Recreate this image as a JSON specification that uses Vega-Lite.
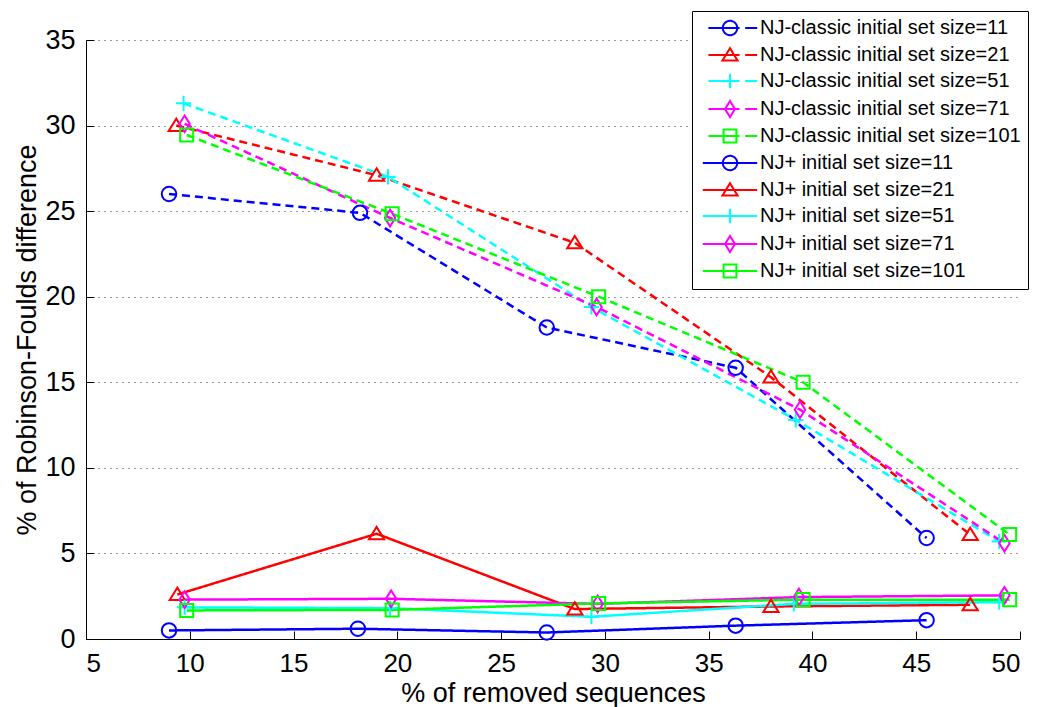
{
  "$schema": "https://vega.github.io/schema/vega-lite/v6.json",
  "width": 934,
  "height": 599,
  "autosize": "none",
  "padding": {"left": 86, "top": 40, "right": 20, "bottom": 68},
  "background": "white",
  "config": {
    "font": "Liberation Sans",
    "view": {"stroke": null},
    "axis": {
      "domainColor": "black",
      "domainWidth": 1,
      "tickColor": "black",
      "tickSize": -8,
      "tickWidth": 1,
      "labelColor": "black",
      "labelFont": "Liberation Sans",
      "labelFontSize": 26,
      "titleFont": "Liberation Sans",
      "titleFontSize": 27,
      "titleFontWeight": "normal",
      "titleColor": "black",
      "labelPadding": 19
    }
  },
  "data": {
    "values": [
      {"series": "NJ-classic initial set size=11", "type": "NJ-classic", "initial": 11, "x": 9.0, "y": 26.0},
      {"series": "NJ-classic initial set size=11", "type": "NJ-classic", "initial": 11, "x": 18.2, "y": 24.9},
      {"series": "NJ-classic initial set size=11", "type": "NJ-classic", "initial": 11, "x": 27.2, "y": 18.2},
      {"series": "NJ-classic initial set size=11", "type": "NJ-classic", "initial": 11, "x": 36.3, "y": 15.85},
      {"series": "NJ-classic initial set size=11", "type": "NJ-classic", "initial": 11, "x": 45.5, "y": 5.9},
      {"series": "NJ-classic initial set size=21", "type": "NJ-classic", "initial": 21, "x": 9.35, "y": 30.0},
      {"series": "NJ-classic initial set size=21", "type": "NJ-classic", "initial": 21, "x": 19.0, "y": 27.1},
      {"series": "NJ-classic initial set size=21", "type": "NJ-classic", "initial": 21, "x": 28.55, "y": 23.15},
      {"series": "NJ-classic initial set size=21", "type": "NJ-classic", "initial": 21, "x": 38.0, "y": 15.3},
      {"series": "NJ-classic initial set size=21", "type": "NJ-classic", "initial": 21, "x": 47.6, "y": 6.1},
      {"series": "NJ-classic initial set size=51", "type": "NJ-classic", "initial": 51, "x": 9.7, "y": 31.3},
      {"series": "NJ-classic initial set size=51", "type": "NJ-classic", "initial": 51, "x": 19.55, "y": 27.0},
      {"series": "NJ-classic initial set size=51", "type": "NJ-classic", "initial": 51, "x": 29.35, "y": 19.4},
      {"series": "NJ-classic initial set size=51", "type": "NJ-classic", "initial": 51, "x": 39.2, "y": 12.8},
      {"series": "NJ-classic initial set size=51", "type": "NJ-classic", "initial": 51, "x": 49.0, "y": 5.7},
      {"series": "NJ-classic initial set size=71", "type": "NJ-classic", "initial": 71, "x": 9.75, "y": 30.1},
      {"series": "NJ-classic initial set size=71", "type": "NJ-classic", "initial": 71, "x": 19.65, "y": 24.6},
      {"series": "NJ-classic initial set size=71", "type": "NJ-classic", "initial": 71, "x": 29.6, "y": 19.4},
      {"series": "NJ-classic initial set size=71", "type": "NJ-classic", "initial": 71, "x": 39.4, "y": 13.4},
      {"series": "NJ-classic initial set size=71", "type": "NJ-classic", "initial": 71, "x": 49.25, "y": 5.6},
      {"series": "NJ-classic initial set size=101", "type": "NJ-classic", "initial": 101, "x": 9.85, "y": 29.45},
      {"series": "NJ-classic initial set size=101", "type": "NJ-classic", "initial": 101, "x": 19.75, "y": 24.85},
      {"series": "NJ-classic initial set size=101", "type": "NJ-classic", "initial": 101, "x": 29.7, "y": 20.0},
      {"series": "NJ-classic initial set size=101", "type": "NJ-classic", "initial": 101, "x": 39.55, "y": 15.0},
      {"series": "NJ-classic initial set size=101", "type": "NJ-classic", "initial": 101, "x": 49.5, "y": 6.1},
      {"series": "NJ+ initial set size=11", "type": "NJ+", "initial": 11, "x": 9.0, "y": 0.5},
      {"series": "NJ+ initial set size=11", "type": "NJ+", "initial": 11, "x": 18.1, "y": 0.6},
      {"series": "NJ+ initial set size=11", "type": "NJ+", "initial": 11, "x": 27.2, "y": 0.38},
      {"series": "NJ+ initial set size=11", "type": "NJ+", "initial": 11, "x": 36.3, "y": 0.78},
      {"series": "NJ+ initial set size=11", "type": "NJ+", "initial": 11, "x": 45.5, "y": 1.1},
      {"series": "NJ+ initial set size=21", "type": "NJ+", "initial": 21, "x": 9.4, "y": 2.6},
      {"series": "NJ+ initial set size=21", "type": "NJ+", "initial": 21, "x": 19.0, "y": 6.15},
      {"series": "NJ+ initial set size=21", "type": "NJ+", "initial": 21, "x": 28.55, "y": 1.75},
      {"series": "NJ+ initial set size=21", "type": "NJ+", "initial": 21, "x": 38.0, "y": 1.9},
      {"series": "NJ+ initial set size=21", "type": "NJ+", "initial": 21, "x": 47.6, "y": 2.0},
      {"series": "NJ+ initial set size=51", "type": "NJ+", "initial": 51, "x": 9.75, "y": 1.85},
      {"series": "NJ+ initial set size=51", "type": "NJ+", "initial": 51, "x": 19.65, "y": 1.8},
      {"series": "NJ+ initial set size=51", "type": "NJ+", "initial": 51, "x": 29.35, "y": 1.3},
      {"series": "NJ+ initial set size=51", "type": "NJ+", "initial": 51, "x": 39.1, "y": 2.05},
      {"series": "NJ+ initial set size=51", "type": "NJ+", "initial": 51, "x": 49.0, "y": 2.15},
      {"series": "NJ+ initial set size=71", "type": "NJ+", "initial": 71, "x": 9.75, "y": 2.3},
      {"series": "NJ+ initial set size=71", "type": "NJ+", "initial": 71, "x": 19.7, "y": 2.35},
      {"series": "NJ+ initial set size=71", "type": "NJ+", "initial": 71, "x": 29.65, "y": 2.05},
      {"series": "NJ+ initial set size=71", "type": "NJ+", "initial": 71, "x": 39.35, "y": 2.45},
      {"series": "NJ+ initial set size=71", "type": "NJ+", "initial": 71, "x": 49.25, "y": 2.55},
      {"series": "NJ+ initial set size=101", "type": "NJ+", "initial": 101, "x": 9.85, "y": 1.67},
      {"series": "NJ+ initial set size=101", "type": "NJ+", "initial": 101, "x": 19.75, "y": 1.7},
      {"series": "NJ+ initial set size=101", "type": "NJ+", "initial": 101, "x": 29.7, "y": 2.08},
      {"series": "NJ+ initial set size=101", "type": "NJ+", "initial": 101, "x": 39.55, "y": 2.3},
      {"series": "NJ+ initial set size=101", "type": "NJ+", "initial": 101, "x": 49.5, "y": 2.3}
    ]
  },
  "encoding": {
    "x": {
      "field": "x",
      "type": "quantitative",
      "scale": {"domain": [5, 50], "nice": false, "zero": false},
      "axis": {
        "values": [5, 10, 15, 20, 25, 30, 35, 40, 45, 50],
        "format": "d",
        "title": "% of removed sequences",
        "grid": false,
        "titlePadding": 4
      }
    },
    "y": {
      "field": "y",
      "type": "quantitative",
      "scale": {"domain": [0, 35], "nice": false},
      "axis": {
        "values": [0, 5, 10, 15, 20, 25, 30, 35],
        "format": "d",
        "title": "% of Robinson-Foulds difference",
        "labelFontSize": 27,
        "grid": true,
        "gridColor": "black",
        "gridDash": [1, 5],
        "gridOpacity": 0.8,
        "titlePadding": 3
      }
    }
  },
  "layer": [
    {
      "mark": {"type": "line", "strokeWidth": 2.5},
      "encoding": {
        "color": {
          "field": "series",
          "type": "nominal",
          "scale": {
            "domain": [
              "NJ-classic initial set size=11",
              "NJ-classic initial set size=21",
              "NJ-classic initial set size=51",
              "NJ-classic initial set size=71",
              "NJ-classic initial set size=101",
              "NJ+ initial set size=11",
              "NJ+ initial set size=21",
              "NJ+ initial set size=51",
              "NJ+ initial set size=71",
              "NJ+ initial set size=101"
            ],
            "range": ["#0000ff", "#ff0000", "#00ffff", "#ff00ff", "#00ff00", "#0000ff", "#ff0000", "#00ffff", "#ff00ff", "#00ff00"]
          },
          "legend": {
            "title": null,
            "orient": "none",
            "legendX": 606,
            "legendY": -29,
            "padding": 7,
            "rowPadding": 4,
            "strokeColor": "black",
            "fillColor": "white",
            "labelFont": "Liberation Sans",
            "labelFontSize": 20,
            "labelColor": "black",
            "labelLimit": 400,
            "symbolSize": 256,
            "symbolOffset": 21,
            "labelOffset": 20,
            "symbolStrokeWidth": 2,
            "symbolDash": [1, 0],
            "symbolFillColor": "transparent",
            "symbolType": {"expr": "['M-2.7,0H1.2M1.9,0H3.4M-0.9,0A0.9,0.9 0 1,0 0.9,0A0.9,0.9 0 1,0 -0.9,0Z','M-2.7,0H1.2M1.9,0H3.4M0,-0.85L0.95,0.7L-0.95,0.7Z','M-2.7,0H1.2M1.9,0H3.4M0,-0.9V0.9','M-2.7,0H1.2M1.9,0H3.4M0,-1L0.62,0L0,1L-0.62,0Z','M-2.7,0H1.2M1.9,0H3.4M-0.8,-0.8H0.8V0.8H-0.8Z','M-3.4,0H3.4M-0.9,0A0.9,0.9 0 1,0 0.9,0A0.9,0.9 0 1,0 -0.9,0Z','M-3.4,0H3.4M0,-0.85L0.95,0.7L-0.95,0.7Z','M-3.4,0H3.4M0,-0.9V0.9','M-3.4,0H3.4M0,-1L0.62,0L0,1L-0.62,0Z','M-3.4,0H3.4M-0.8,-0.8H0.8V0.8H-0.8Z'][datum.index]"}
          }
        },
        "strokeDash": {
          "field": "type",
          "type": "nominal",
          "scale": {"domain": ["NJ-classic", "NJ+"], "range": [[8, 5], [1, 0]]},
          "legend": null
        }
      }
    },
    {
      "mark": {"type": "point", "filled": false, "strokeWidth": 2, "size": 210, "opacity": 1},
      "encoding": {
        "color": {"field": "series", "type": "nominal", "legend": null},
        "shape": {
          "field": "initial",
          "type": "nominal",
          "scale": {
            "domain": [11, 21, 51, 71, 101],
            "range": [
              "M-1,0A1,1 0 1,0 1,0A1,1 0 1,0 -1,0Z",
              "M0,-0.95L1.05,0.75L-1.05,0.75Z",
              "M-1.05,0H1.05M0,-1.05V1.05",
              "M0,-1.15L0.72,0L0,1.15L-0.72,0Z",
              "M-0.9,-0.9H0.9V0.9H-0.9Z"
            ]
          },
          "legend": null
        }
      }
    }
  ]
}
